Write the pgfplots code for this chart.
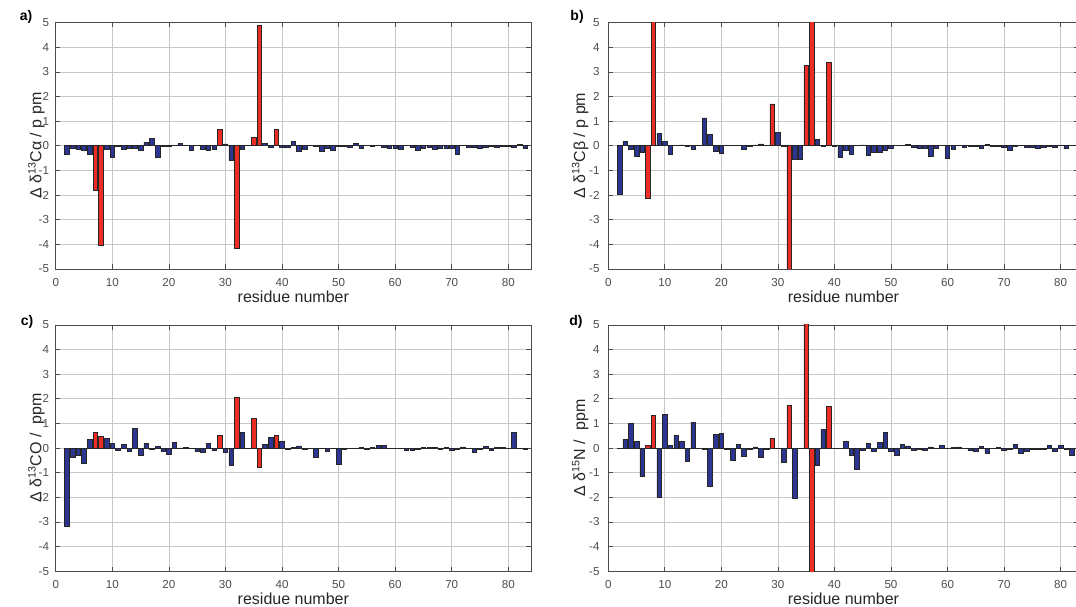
\documentclass[border=0pt]{standalone}
\usepackage{fontspec}
\setmainfont{Liberation Sans}
\usepackage{pgfplots}
\usepackage{pgfplotstable}
\pgfplotsset{compat=1.18}
\definecolor{barblue}{RGB}{44,54,145}
\definecolor{barred}{RGB}{236,45,38}

% residue, panels a (Calpha) b (Cbeta) c (CO) d (N)
\pgfplotstableread{
x a b c d
2 -0.33 -1.96 -3.19 0.00
3 -0.10 0.19 -0.38 0.34
4 -0.13 -0.15 -0.31 0.99
5 -0.20 -0.43 -0.61 0.26
6 -0.33 -0.26 0.34 -1.16
9 -0.15 0.50 0.39 -1.99
10 -0.47 0.19 0.18 1.35
11 -0.02 -0.33 -0.08 0.12
12 -0.15 0.00 0.14 0.50
13 -0.12 0.04 -0.15 0.26
14 -0.12 -0.04 0.81 -0.55
15 -0.17 -0.13 -0.28 1.04
16 0.15 0.03 0.18 0.00
17 0.30 1.13 -0.03 -0.07
18 -0.48 0.45 0.08 -1.54
19 -0.01 -0.23 -0.15 0.54
20 -0.02 -0.32 -0.27 0.59
21 0.02 0.01 0.24 -0.05
22 0.10 0.00 0.01 -0.51
23 0.00 0.00 0.04 0.15
24 -0.18 -0.16 0.00 -0.35
25 0.03 -0.04 -0.15 -0.03
26 -0.15 0.04 -0.19 0.05
27 -0.20 0.08 0.18 -0.39
28 -0.15 0.00 -0.10 -0.07
30 0.08 0.53 -0.18 0.00
31 -0.57 -0.02 -0.69 -0.58
33 -0.13 -0.54 0.64 -2.03
34 0.00 -0.54 0.00 0.00
37 0.10 0.25 0.15 -0.69
38 -0.06 -0.03 0.43 0.76
40 -0.08 -0.03 0.26 0.00
41 -0.05 -0.47 -0.06 0.00
42 0.19 -0.19 0.03 0.26
43 -0.22 -0.35 0.09 -0.28
44 -0.16 0.00 -0.03 -0.88
45 0.02 0.04 0.00 -0.08
46 -0.03 -0.39 -0.39 0.18
47 -0.22 -0.26 0.00 -0.14
48 -0.11 -0.28 -0.15 0.23
49 -0.20 -0.20 0.00 0.64
50 -0.03 -0.10 -0.64 -0.12
51 -0.03 0.01 -0.03 -0.31
52 -0.08 0.02 0.00 0.16
53 0.09 0.06 0.00 0.09
54 -0.10 -0.08 0.04 -0.10
55 0.02 -0.12 -0.03 -0.03
56 -0.02 -0.10 0.04 -0.08
57 0.00 -0.43 0.10 0.05
58 -0.08 -0.12 0.10 0.00
59 -0.10 0.00 0.00 0.12
60 -0.10 -0.49 0.00 0.00
61 -0.15 -0.15 0.00 0.03
62 0.02 0.00 -0.10 0.05
63 -0.05 -0.08 -0.10 0.00
64 -0.19 -0.03 -0.05 -0.10
65 -0.12 -0.03 0.04 -0.15
66 -0.05 -0.10 0.04 0.07
67 -0.13 0.07 0.04 -0.20
68 -0.12 -0.04 -0.03 0.00
69 -0.12 -0.04 0.03 0.03
70 -0.12 -0.05 -0.08 -0.08
71 -0.34 -0.20 -0.03 -0.05
72 0.03 -0.04 0.05 0.15
73 -0.05 0.00 -0.02 -0.20
74 -0.07 -0.05 -0.16 -0.12
75 -0.10 -0.05 -0.03 -0.05
76 -0.07 -0.12 0.06 -0.07
77 -0.02 -0.05 -0.08 -0.07
78 -0.05 -0.03 0.03 0.12
79 -0.02 -0.05 0.02 -0.14
80 -0.02 0.00 0.00 0.12
81 -0.08 -0.12 0.65 -0.03
82 0.07 0.00 -0.02 -0.30
83 -0.10 0.00 -0.05 0.00
}\bluedata

\pgfplotstableread{
x a b c d
7 -1.79 -2.13 0.62 0.11
8 -4.02 7.00 0.46 1.32
29 0.68 1.70 0.53 0.39
32 -4.16 -7.00 2.05 1.73
35 0.34 3.26 1.19 7.00
36 4.88 7.00 -0.78 -7.00
39 0.66 3.40 0.50 1.68
}\reddata

\pgfplotsset{
  panel/.style={
    scale only axis,
    height=184.8pt,
    xmin=0, ymin=-5, ymax=5,
    xtick={0,10,...,80},
    ytick={-5,-4,...,5},
    grid=major,
    major grid style={draw=black!22, line width=0.5pt},
    axis line style={draw=black!70, line width=0.5pt},
    tick style={draw=black!70, line width=0.5pt},
    major tick length=3.5pt,
    tick label style={font=\fontsize{8.7}{10}\selectfont, text=black!70},
    /pgf/number format/assume math mode=true,
    xticklabel style={yshift=-3.2pt},
    xlabel={residue number},
    label style={font=\fontsize{12}{14}\selectfont, text=black!85},
    xlabel style={at={(axis description cs:0.5,-0.135)}, anchor=base},
  },
  leftpanel/.style={panel, width=356.4pt, xmax=84,
    yticklabel style={xshift=-1.5pt},
    ylabel style={at={(axis description cs:-0.03,0.5)}, anchor=base}},
  rightpanel/.style={panel, width=352.8pt, xmax=83.2,
    yticklabel style={xshift=-3pt},
    ylabel style={at={(axis description cs:-0.049,0.5)}, anchor=base}},
  bluebar/.style={ybar, bar width=0.8, bar shift=0pt, fill=barblue, draw=black!85, line width=0.45pt},
  redbar/.style={ybar, bar width=0.8, bar shift=0pt, fill=barred, draw=black!85, line width=0.45pt},
  zeroline/.style={black!85, line width=0.55pt},
}

\begin{document}
\begin{tikzpicture}
\useasboundingbox (0,0) rectangle (807pt,455.25pt);

\begin{axis}[leftpanel, at={(41.8pt,253.5pt)}, anchor=south west,
  ylabel={Δ δ\textsuperscript{13}Cα / p pm}]
\addplot[bluebar] table[x=x,y=a]{\bluedata};
\addplot[redbar] table[x=x,y=a]{\reddata};
\addplot[zeroline] coordinates {(1.5,0) (83.5,0)};
\end{axis}

\begin{axis}[rightpanel, at={(456.2pt,253.5pt)}, anchor=south west,
  ylabel={Δ δ\textsuperscript{13}Cβ / p pm}]
\addplot[bluebar] table[x=x,y=b]{\bluedata};
\addplot[redbar] table[x=x,y=b]{\reddata};
\addplot[zeroline] coordinates {(1.5,0) (83.5,0)};
\end{axis}

\begin{axis}[leftpanel, at={(41.8pt,26.8pt)}, anchor=south west,
  ylabel={Δ δ\textsuperscript{13}CO /\ \ ppm}]
\addplot[bluebar] table[x=x,y=c]{\bluedata};
\addplot[redbar] table[x=x,y=c]{\reddata};
\addplot[zeroline] coordinates {(1.5,0) (83.5,0)};
\end{axis}

\begin{axis}[rightpanel, at={(456.2pt,26.8pt)}, anchor=south west,
  ylabel={Δ δ\textsuperscript{15}N /\ \ ppm}]
\addplot[bluebar] table[x=x,y=d]{\bluedata};
\addplot[redbar] table[x=x,y=d]{\reddata};
\addplot[zeroline] coordinates {(1.5,0) (83.5,0)};
\end{axis}

\node[font=\bfseries\fontsize{10.5}{12}\selectfont] at (19.5pt,442.5pt) {a)};
\node[font=\bfseries\fontsize{10.5}{12}\selectfont] at (432.8pt,442.5pt) {b)};
\node[font=\bfseries\fontsize{10.5}{12}\selectfont] at (20.3pt,213.8pt) {c)};
\node[font=\bfseries\fontsize{10.5}{12}\selectfont] at (432pt,213.8pt) {d)};
\end{tikzpicture}
\end{document}
